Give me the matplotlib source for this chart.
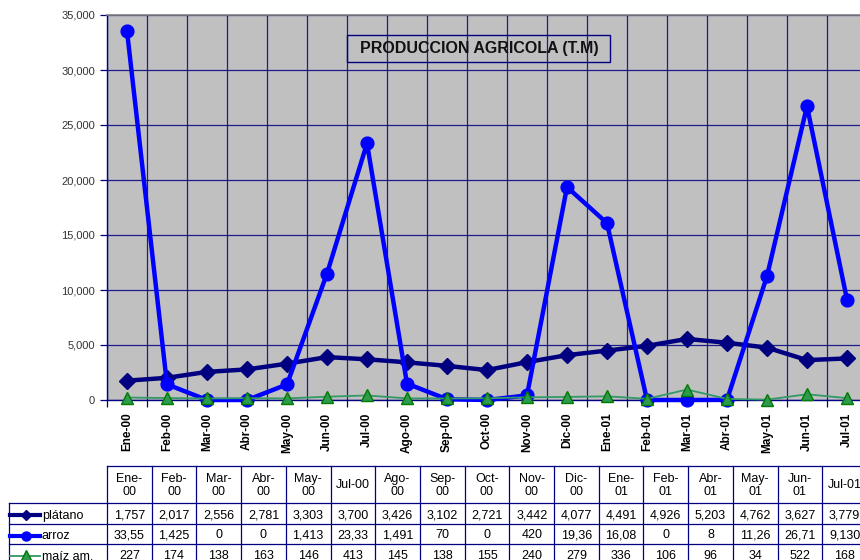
import matplotlib
matplotlib.use("Agg")
import matplotlib.pyplot as plt
from matplotlib.patches import Rectangle
from matplotlib.lines import Line2D
from matplotlib.ticker import FuncFormatter, FixedLocator

# chart categories (19 months)
months = ["Ene-00", "Feb-00", "Mar-00", "Abr-00", "May-00", "Jun-00", "Jul-00",
          "Ago-00", "Sep-00", "Oct-00", "Nov-00", "Dic-00", "Ene-01", "Feb-01",
          "Mar-01", "Abr-01", "May-01", "Jun-01", "Jul-01"]

platano = [1757, 2017, 2556, 2781, 3303, 3900, 3700, 3426, 3102, 2721, 3442,
           4077, 4491, 4926, 5550, 5203, 4762, 3627, 3779]
arroz = [33550, 1425, 0, 0, 1413, 11500, 23330, 1491, 70, 0, 420,
         19360, 16080, 0, 0, 8, 11260, 26710, 9130]
maiz = [227, 174, 138, 163, 146, 300, 413, 145, 138, 155, 240,
        279, 336, 106, 950, 96, 34, 522, 168]

# data table shows 17 of the months (Jun-00 and Mar-01 are not in it)
table_months = ["Ene-00", "Feb-00", "Mar-00", "Abr-00", "May-00", "Jul-00",
                "Ago-00", "Sep-00", "Oct-00", "Nov-00", "Dic-00", "Ene-01",
                "Feb-01", "Abr-01", "May-01", "Jun-01", "Jul-01"]
table_headers = ["Ene-\n00", "Feb-\n00", "Mar-\n00", "Abr-\n00", "May-\n00",
                 "Jul-00", "Ago-\n00", "Sep-\n00", "Oct-\n00", "Nov-\n00",
                 "Dic-\n00", "Ene-\n01", "Feb-\n01", "Abr-\n01", "May-\n01",
                 "Jun-\n01", "Jul-01"]

series_names = ["plátano", "arroz", "maíz am."]

NAVY = "#000080"
BLUE = "#0000FF"
GREEN_LINE = "#339966"
GREEN_FILL = "#2E9A50"
GREEN_EDGE = "#007A00"

W, H = 860, 560
fig = plt.figure(figsize=(W / 100, H / 100), dpi=100)
fig.patch.set_facecolor("white")

# plot area in pixels: x 107..867, y 15..400
ax = fig.add_axes([107 / W, (H - 400) / H, 760 / W, 385 / H])
ax.set_facecolor("#C0C0C0")

x = list(range(len(months)))
ax.plot(x, platano, color=NAVY, lw=3.2, marker="D", ms=8.2,
        mfc=NAVY, mec=NAVY, zorder=3, clip_on=False)
ax.plot(x, arroz, color=BLUE, lw=3.2, marker="o", ms=9.2,
        mfc=BLUE, mec=BLUE, zorder=4, clip_on=False)
ax.plot(x, maiz, color=GREEN_LINE, lw=1.3, marker="^", ms=9,
        mfc=GREEN_FILL, mec=GREEN_EDGE, mew=1, zorder=5, clip_on=False)

ax.set_xlim(-0.5, len(months) - 0.5)
ax.set_ylim(0, 35000)
ax.yaxis.set_major_locator(FixedLocator(range(0, 35001, 5000)))
ax.yaxis.set_major_formatter(FuncFormatter(lambda v, p: f"{v:,.0f}"))

# category boundaries carry the ticks and vertical grid, labels sit in the middle
ax.xaxis.set_major_locator(FixedLocator([i - 0.5 for i in range(len(months) + 1)]))
ax.xaxis.set_minor_locator(FixedLocator(x))
ax.set_xticklabels([], minor=False)
ax.set_xticklabels(months, minor=True, rotation=90, fontsize=8.5,
                   fontweight="bold", family="Liberation Sans")
ax.tick_params(axis="x", which="major", length=5, color=NAVY, width=0.9)
ax.tick_params(axis="x", which="minor", length=0, pad=9)
ax.tick_params(axis="y", length=5, color=NAVY, width=0.9, pad=3.5,
               labelsize=8, labelcolor="#333333")
for lab in ax.get_yticklabels():
    lab.set_family("Liberation Sans")

ax.grid(True, which="major", color=NAVY, lw=0.9, alpha=0.85, zorder=1)
ax.set_axisbelow(True)
for side in ["left", "bottom"]:
    ax.spines[side].set_color(NAVY)
    ax.spines[side].set_linewidth(1)
ax.spines["top"].set_color("#808080")
ax.spines["top"].set_linewidth(1.2)
ax.spines["right"].set_visible(False)

# title box
ax.add_patch(Rectangle(((347 - 107) / 760, (400 - 62) / 385), 263 / 760, 27 / 385,
                       transform=ax.transAxes, fill=False, ec=NAVY, lw=1, zorder=6))
ax.text((479 - 107) / 760, (400 - 48.5) / 385, "PRODUCCION AGRICOLA (T.M)",
        transform=ax.transAxes, ha="center", va="center", fontsize=11.5,
        fontweight="bold", family="Liberation Sans", color="#111111", zorder=7)

# data table: x in column units (17 columns over 760 px), y in pixels from 466
ncol = len(table_months)
colw = 760 / ncol
tax = fig.add_axes([107 / W, (H - 566) / H, 760 / W, 100 / H])
tax.set_xlim(0, ncol)
tax.set_ylim(100, 0)
tax.axis("off")

rows = [0, 37, 58, 78, 99]
left_col = -(107 - 9) / colw
lc = dict(color=NAVY, lw=0.9, clip_on=False)

tax.plot([0, ncol], [rows[0], rows[0]], **lc)
for r in rows[1:]:
    tax.plot([left_col, ncol], [r, r], **lc)
for c in range(ncol + 1):
    tax.plot([c, c], [rows[0], rows[-1]], **lc)
tax.plot([left_col, left_col], [rows[1], rows[-1]], **lc)

tfont = dict(fontsize=9, family="Liberation Sans", color="black", clip_on=False)
for c, head in enumerate(table_headers):
    tax.text(c + 0.5, (rows[0] + rows[1]) / 2 + 1, head, ha="center", va="center",
             linespacing=1.05, **tfont)

all_series = [platano, arroz, maiz]
styles = [dict(color=NAVY, lw=3, marker="D", ms=5.5, mfc=NAVY, mec=NAVY),
          dict(color=BLUE, lw=3, marker="o", ms=6.5, mfc=BLUE, mec=BLUE),
          dict(color=GREEN_LINE, lw=1.3, marker="^", ms=9, mfc=GREEN_FILL,
               mec=GREEN_EDGE)]
for i, (name, vals, st) in enumerate(zip(series_names, all_series, styles)):
    yc = (rows[i + 1] + rows[i + 2]) / 2 + 1.5
    key = Line2D([-(107 - 10) / colw, -(107 - 40) / colw], [yc, yc], clip_on=False, **st)
    key.set_markevery([])
    tax.add_line(key)
    tax.plot([-(107 - 25.5) / colw], [yc], ls="none", clip_on=False,
             **{k: v for k, v in st.items() if k not in ("color", "lw")})
    tax.text(-(107 - 42) / colw, yc + 0.5, name, ha="left", va="center", **tfont)
    for c, m in enumerate(table_months):
        v = vals[months.index(m)]
        tax.text(c + 0.5, yc, f"{v:,.0f}"[:5], ha="center", va="center", **tfont)

fig.savefig("out.png", dpi=100)
